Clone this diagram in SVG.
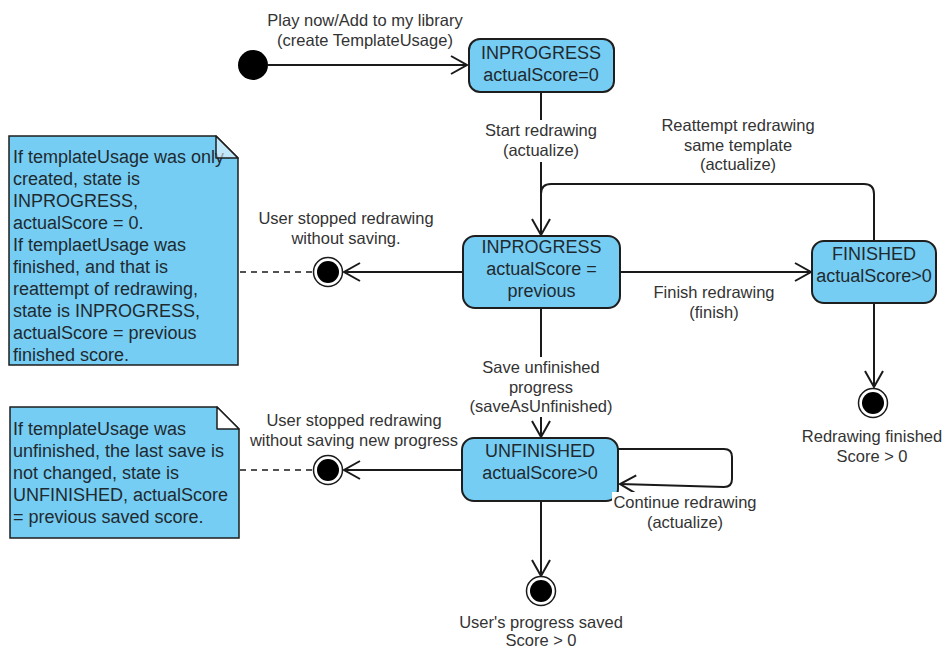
<svg xmlns="http://www.w3.org/2000/svg" width="946" height="649" viewBox="0 0 946 649">
  <style>
    .state { fill: #76cdf3; stroke: #1e1e1e; stroke-width: 2; }
    .stxt { font-family: "Liberation Sans", Arial, sans-serif; font-size: 18px; fill: #1f2a30; text-anchor: middle; }
    .note { fill: #76cdf3; stroke: #1e1e1e; stroke-width: 1.5; }
    .fold { fill: #ffffff; stroke: #1e1e1e; stroke-width: 1.5; stroke-linejoin: round; }
    .ntxt { font-family: "Liberation Sans", Arial, sans-serif; font-size: 18px; fill: #1f2a30; }
    .lbl { font-family: "Liberation Sans", Arial, sans-serif; font-size: 16.5px; fill: #333333; text-anchor: middle; }
    .edge { fill: none; stroke: #1a1a1a; stroke-width: 2; }
    .dash { fill: none; stroke: #1a1a1a; stroke-width: 1.5; stroke-dasharray: 6 5; }
    .bg { fill: #ffffff; }
  </style>
  <defs>
    <marker id="open" markerUnits="userSpaceOnUse" markerWidth="20" markerHeight="20" refX="17" refY="10" orient="auto">
      <path d="M1,1 L17,10 L1,19" fill="none" stroke="#1a1a1a" stroke-width="2"/>
    </marker>
  </defs>

  <rect width="946" height="649" fill="#ffffff"/>

  <!-- transitions -->
  <g id="connectors">
    <path class="edge" d="M268,65 H467" marker-end="url(#open)"/>
    <path class="edge" d="M541,92 V235" marker-end="url(#open)"/>
    <path class="edge" d="M874,241 V194 Q874,184 864,184 H551 Q541,184 541,194"/>
    <path class="edge" d="M620,272 H811" marker-end="url(#open)"/>
    <path class="edge" d="M463,272 H344" marker-end="url(#open)"/>
    <path class="edge" d="M541,308 V437" marker-end="url(#open)"/>
    <path class="edge" d="M874,303 V387" marker-end="url(#open)"/>
    <path class="edge" d="M462,470 H344" marker-end="url(#open)"/>
    <path class="edge" d="M541,501 V576" marker-end="url(#open)"/>
    <path class="edge" d="M618,449 H724 Q732,449 732,457 V479 Q732,487 724,487 L620,484" marker-end="url(#open)"/>
    <path class="dash" d="M240,272 H313"/>
    <path class="dash" d="M240,470 H313"/>

    <!-- transition labels -->
    <rect class="bg" x="484" y="120" width="115" height="42"/>
    <text class="lbl" x="541" y="136">Start redrawing</text>
    <text class="lbl" x="541" y="156">(actualize)</text>

    <text class="lbl" x="365" y="26">Play now/Add to my library</text>
    <text class="lbl" x="365" y="46">(create TemplateUsage)</text>

    <text class="lbl" x="738" y="131">Reattempt redrawing</text>
    <text class="lbl" x="738" y="151">same template</text>
    <text class="lbl" x="738" y="170">(actualize)</text>

    <text class="lbl" x="714" y="298">Finish redrawing</text>
    <text class="lbl" x="714" y="318">(finish)</text>

    <text class="lbl" x="346" y="224">User stopped redrawing</text>
    <text class="lbl" x="346" y="244">without saving.</text>

    <rect class="bg" x="470" y="357" width="142" height="60"/>
    <text class="lbl" x="541" y="373">Save unfinished</text>
    <text class="lbl" x="541" y="393">progress</text>
    <text class="lbl" x="541" y="412">(saveAsUnfinished)</text>

    <text class="lbl" x="354" y="426">User stopped redrawing</text>
    <text class="lbl" x="354" y="446">without saving new progress</text>

    <text class="lbl" x="872" y="442">Redrawing finished</text>
    <text class="lbl" x="872" y="462">Score &gt; 0</text>

    <text class="lbl" x="541" y="628">User's progress saved</text>
    <text class="lbl" x="541" y="646">Score &gt; 0</text>
  </g>

  <!-- initial state -->
  <g id="start">
    <circle cx="253" cy="65" r="15" fill="#000000"/>
  </g>

  <g id="inprogress-new">
    <rect class="state" x="469" y="39" width="145" height="53" rx="11"/>
    <text class="stxt" x="541" y="59">INPROGRESS</text>
    <text class="stxt" x="541" y="80.5">actualScore=0</text>
  </g>

  <g id="inprogress">
    <rect class="state" x="463" y="236" width="157" height="72" rx="12"/>
    <text class="stxt" x="541.5" y="253">INPROGRESS</text>
    <text class="stxt" x="541.5" y="275">actualScore =</text>
    <text class="stxt" x="541.5" y="297">previous</text>
  </g>

  <g id="finished">
    <rect class="state" x="812" y="241" width="124" height="62" rx="12"/>
    <text class="stxt" x="874" y="260">FINISHED</text>
    <text class="stxt" x="874" y="282">actualScore&gt;0</text>
  </g>

  <g id="unfinished">
    <rect class="state" x="462" y="438" width="156" height="63" rx="12"/>
    <text class="stxt" x="540" y="457">UNFINISHED</text>
    <text class="stxt" x="540" y="478.5">actualScore&gt;0</text>
  </g>

  <!-- label over the self-loop corner -->
  <g id="continue-label">
    <rect class="bg" x="612" y="492" width="146" height="40"/>
    <text class="lbl" x="685" y="508">Continue redrawing</text>
    <text class="lbl" x="685" y="528">(actualize)</text>
  </g>

  <!-- final states -->
  <g id="end-stopped">
    <circle cx="328" cy="272" r="14.5" fill="#ffffff" stroke="#1a1a1a" stroke-width="1.5"/>
    <circle cx="328" cy="272" r="11" fill="#000000"/>
  </g>
  <g id="end-stopped-unfinished">
    <circle cx="328" cy="470" r="14.5" fill="#ffffff" stroke="#1a1a1a" stroke-width="1.5"/>
    <circle cx="328" cy="470" r="11" fill="#000000"/>
  </g>
  <g id="end-finished">
    <circle cx="873" cy="403" r="14.5" fill="#ffffff" stroke="#1a1a1a" stroke-width="1.5"/>
    <circle cx="873" cy="403" r="11" fill="#000000"/>
  </g>
  <g id="end-saved">
    <circle cx="541" cy="591" r="14.5" fill="#ffffff" stroke="#1a1a1a" stroke-width="1.5"/>
    <circle cx="541" cy="591" r="11" fill="#000000"/>
  </g>

  <!-- notes -->
  <g id="note-inprogress">
    <path class="note" d="M9,136 H216 L238,158 V365 H9 Z"/>
    <text class="ntxt">
      <tspan x="13" y="163">If templateUsage was only</tspan>
      <tspan x="13" y="185">created, state is</tspan>
      <tspan x="13" y="207">INPROGRESS,</tspan>
      <tspan x="13" y="229">actualScore = 0.</tspan>
      <tspan x="13" y="251">If templaetUsage was</tspan>
      <tspan x="13" y="273">finished, and that is</tspan>
      <tspan x="13" y="295">reattempt of redrawing,</tspan>
      <tspan x="13" y="317">state is INPROGRESS,</tspan>
      <tspan x="13" y="339">actualScore = previous</tspan>
      <tspan x="13" y="361">finished score.</tspan>
    </text>
    <path class="fold" d="M216,136 V158 H238 Z" fill-opacity="0.55"/>
  </g>

  <g id="note-unfinished">
    <path class="note" d="M10,407 H217 L239,429 V538 H10 Z"/>
    <text class="ntxt">
      <tspan x="13" y="435">If templateUsage was</tspan>
      <tspan x="13" y="457">unfinished, the last save is</tspan>
      <tspan x="13" y="479">not changed, state is</tspan>
      <tspan x="13" y="501">UNFINISHED, actualScore</tspan>
      <tspan x="13" y="523">= previous saved score.</tspan>
    </text>
    <path class="fold" d="M217,407 V429 H239 Z"/>
  </g>
</svg>
